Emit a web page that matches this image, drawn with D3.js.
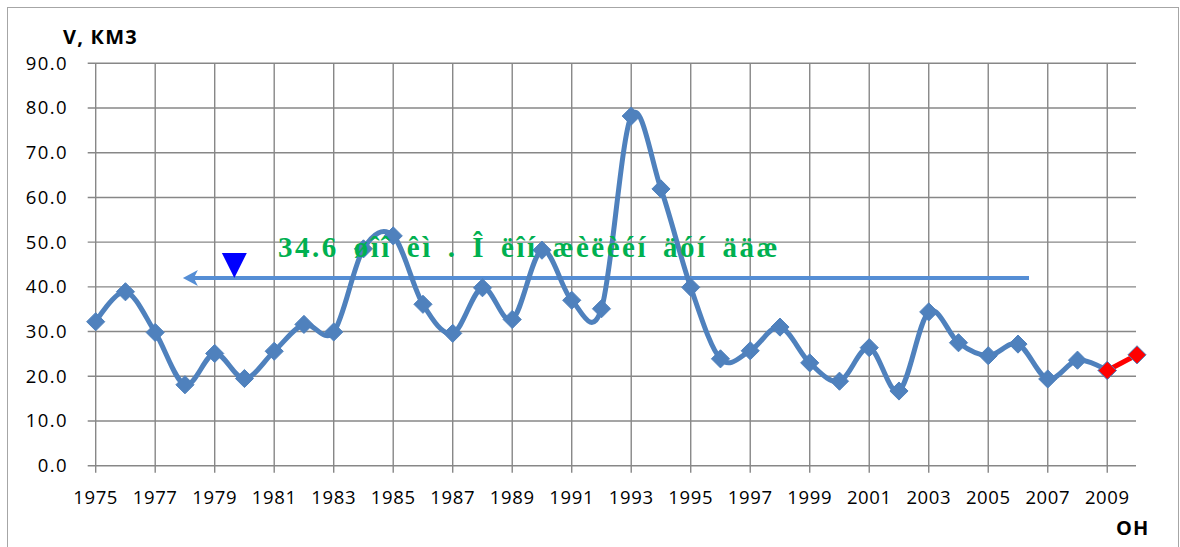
<!DOCTYPE html>
<html>
<head>
<meta charset="utf-8">
<script src="https://cdn.jsdelivr.net/npm/d3@7"></script>
<style>
  html, body { margin: 0; padding: 0; background: #fff; }
  svg { display: block; }
  .tick-label { font-family: 'Open Sans', sans-serif; font-size: 18.5px; fill: #000; letter-spacing: 0.6px; }
  .ylab { letter-spacing: 1.4px; }
  .axis-title { font-family: 'Open Sans', sans-serif; font-size: 20px; font-weight: bold; fill: #000; letter-spacing: 1.2px; }
</style>
</head>
<body>
<div id="chart"></div>
<script>
// observed yearly volume, km3
const years = [1975, 1976, 1977, 1978, 1979, 1980, 1981, 1982, 1983, 1984,
  1985, 1986, 1987, 1988, 1989, 1990, 1991, 1992, 1993, 1994,
  1995, 1996, 1997, 1998, 1999, 2000, 2001, 2002, 2003, 2004,
  2005, 2006, 2007, 2008, 2009];
const volume = [32.2, 38.9, 29.8, 18.1, 25.1, 19.5, 25.6, 31.6, 29.9, 48.5,
  51.4, 36.1, 29.6, 39.8, 32.7, 48.2, 37.0, 35.1, 78.2, 61.9,
  39.9, 23.9, 25.7, 31.0, 23.0, 18.9, 26.4, 16.7, 34.4, 27.5,
  24.6, 27.2, 19.4, 23.6, 21.3];

// red tail segment
const tailYears = [2009, 2010];
const tailVolume = [21.3, 24.8];

const yTicks = [0, 10, 20, 30, 40, 50, 60, 70, 80, 90];
const xTicks = [1975, 1977, 1979, 1981, 1983, 1985, 1987, 1989, 1991, 1993,
  1995, 1997, 1999, 2001, 2003, 2005, 2007, 2009];

const meanLabel = '34.6 øîî êì . Î ëîí  æèëèéí  äóí ääæ';
const meanArrow = { from: 2006.37, to: 1977.93, value: 42 };
const markerYear = 1979.66;

const width = 1180;
const height = 547;

const svg = d3.select('#chart')
  .append('svg')
  .attr('width', width)
  .attr('height', height);

// outer chart frame
svg.append('rect')
  .attr('x', 7.5).attr('y', 7.5)
  .attr('width', 1171).attr('height', 560)
  .attr('fill', '#fff')
  .attr('stroke', '#a6a6a6')
  .attr('stroke-width', 1);

const x = d3.scaleLinear().domain([1975, 2010]).range([95.7, 1137]);
const y = d3.scaleLinear().domain([0, 90]).range([465.7, 63.3]);

const grid = svg.append('g').attr('stroke', '#878787').attr('stroke-width', 1.4);

// horizontal gridlines with outer ticks
grid.selectAll('line.h')
  .data(yTicks)
  .join('line')
  .attr('class', 'h')
  .attr('x1', x(1975) - 8)
  .attr('x2', x(2010) - 1)
  .attr('y1', d => y(d))
  .attr('y2', d => y(d));

// vertical gridlines every two years
grid.selectAll('line.v')
  .data(xTicks)
  .join('line')
  .attr('class', 'v')
  .attr('x1', d => x(d))
  .attr('x2', d => x(d))
  .attr('y1', y(90))
  .attr('y2', y(0) + 7);

svg.selectAll('text.ylab')
  .data(yTicks)
  .join('text')
  .attr('class', 'tick-label ylab')
  .attr('x', 68)
  .attr('y', d => y(d))
  .attr('dy', '0.35em')
  .attr('text-anchor', 'end')
  .text(d => d.toFixed(1));

svg.selectAll('text.xlab')
  .data(xTicks)
  .join('text')
  .attr('class', 'tick-label xlab')
  .attr('x', d => x(d))
  .attr('y', 504)
  .attr('text-anchor', 'middle')
  .text(d => d);

svg.append('text')
  .attr('class', 'axis-title')
  .attr('x', 63)
  .attr('y', 44)
  .text('V, КМ3');

svg.append('text')
  .attr('class', 'axis-title')
  .attr('x', 1116)
  .attr('y', 535)
  .text('OH');

// mean annotation arrow
const arrowY = y(meanArrow.value);
svg.append('line')
  .attr('x1', x(meanArrow.from))
  .attr('x2', x(meanArrow.to) + 8)
  .attr('y1', arrowY)
  .attr('y2', arrowY)
  .attr('stroke', '#558ed5')
  .attr('stroke-width', 4);

svg.append('path')
  .attr('d', `M${x(meanArrow.to)},${arrowY} l15,-8 l-4,8 l4,8 z`)
  .attr('fill', '#558ed5');

const mx = x(markerYear);
svg.append('path')
  .attr('d', `M${mx - 12.5},${arrowY - 25} L${mx + 12.5},${arrowY - 25} L${mx},${arrowY} Z`)
  .attr('fill', '#0000ff');

// main smoothed series
const pts = years.map((yr, i) => [x(yr), y(volume[i])]);

svg.append('path')
  .datum(pts)
  .attr('fill', 'none')
  .attr('stroke', '#4f81bd')
  .attr('stroke-width', 5)
  .attr('stroke-linejoin', 'round')
  .attr('d', d3.line().curve(d3.curveCardinal.tension(0)));

const diamond = d3.symbol().type(d3.symbolDiamond2).size(210);

svg.append('g')
  .selectAll('path')
  .data(pts)
  .join('path')
  .attr('transform', d => `translate(${d[0]},${d[1]})`)
  .attr('d', diamond)
  .attr('fill', '#4f81bd')
  .attr('stroke', '#4f81bd')
  .attr('stroke-width', 1);

// red tail
const tailPts = tailYears.map((yr, i) => [x(yr), y(tailVolume[i])]);

svg.append('path')
  .datum(tailPts)
  .attr('fill', 'none')
  .attr('stroke', '#ff0000')
  .attr('stroke-width', 5)
  .attr('d', d3.line());

svg.append('g')
  .selectAll('path')
  .data(tailPts)
  .join('path')
  .attr('transform', d => `translate(${d[0]},${d[1]})`)
  .attr('d', diamond)
  .attr('fill', '#ff0000')
  .attr('stroke', '#4f81bd')
  .attr('stroke-width', 1);

// green caption sits on top of the series
svg.append('text')
  .attr('x', 278)
  .attr('y', 257)
  .attr('fill', '#00b050')
  .style('font-family', "'Liberation Serif', 'DejaVu Serif', serif")
  .style('font-weight', 'bold')
  .style('font-size', '29px')
  .style('letter-spacing', '2.5px')
  .style('word-spacing', '5.2px')
  .text(meanLabel);
</script>
</body>
</html>
